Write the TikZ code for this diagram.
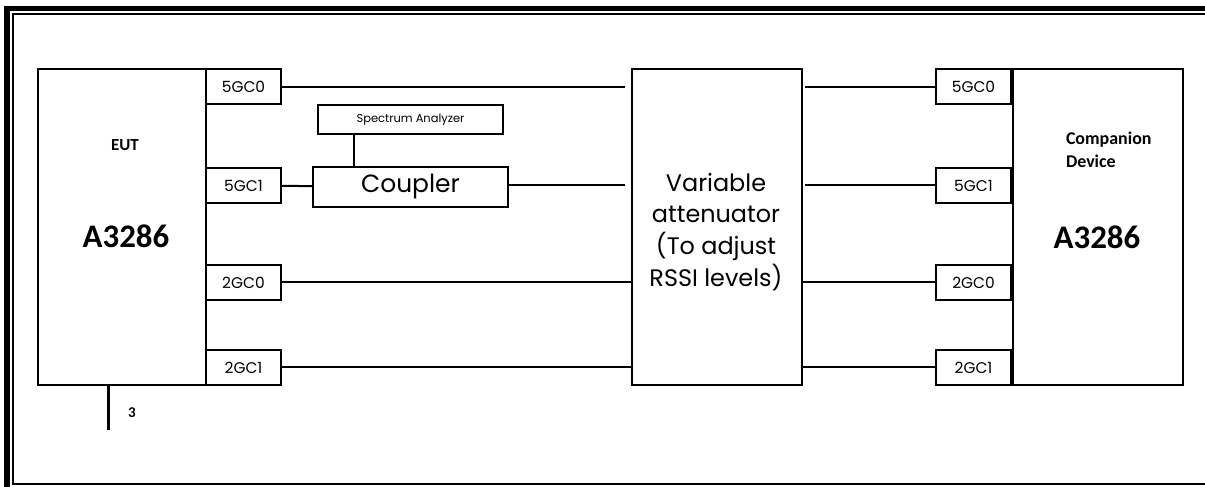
\documentclass[tikz,border=0pt]{standalone}
\usepackage{fontspec}
\setmainfont{Poppins}
\newfontfamily\calfont{Carlito}
\usetikzlibrary{positioning}

\begin{document}
\begin{tikzpicture}[x=1bp, y=-1bp, line width=2bp,
        unit/.style={draw, rectangle, inner sep=0pt, minimum width=#1},
        port/.style={unit=75bp, minimum height=35bp, font=\fontsize{15.5}{15.5}\selectfont},
        wire/.style={line width=2bp},
        rim/.style={fill=black},
        ]
        \useasboundingbox (0,0) rectangle (1205,487);
        % frame
        \path[rim] (4,6) rectangle (1205,11);
        \path[rim] (4,6) rectangle (10,487);
        \path[rim] (12,13) rectangle (1205,15);
        \path[rim] (12,13) rectangle (14,485);
        \path[rim] (12,483) rectangle (1205,485);

        % left device and its ports
        \node[unit=168bp, minimum height=316bp] (eut) at (122,227) {};
        \node[font=\calfont\bfseries\fontsize{17}{17}\selectfont] (eutlbl) at (125,145) {EUT};
        \node[font=\calfont\bfseries\fontsize{33}{33}\selectfont] (eutnum) at (126,236) {A3286};
        \node[port] (l0) at (243.5,87) {5GC0};
        \node[port] (l1) at (243.5,185.5) {5GC1};
        \node[port] (l2) at (243.5,282.5) {2GC0};
        \node[port] (l3) at (243.5,367.5) {2GC1};

        % coupler and analyzer
        \node[unit=195bp, minimum height=40bp, font=\fontsize{25}{25}\selectfont] (coupler) at (410.5,187) {Coupler};
        \node[unit=185bp, minimum height=29bp, font=\fontsize{11.5}{11.5}\selectfont] (sa) at (410.5,119.5) {Spectrum Analyzer};

        % attenuator
        \node[unit=170bp, minimum height=316bp] (att) at (717,227) {};
        \node[align=center, font=\fontsize{24}{32}\selectfont] (attlbl) at (716,232)
            {Variable\\attenuator\\(To adjust\\RSSI levels)};

        % companion device and its ports
        \node[unit=170bp, minimum height=316bp] (comp) at (1098,227) {};
        \node[anchor=north west, align=left, inner sep=0pt, font=\calfont\bfseries\fontsize{18}{23}\selectfont] (complbl) at (1065,131) {Companion\\Device};
        \node[font=\calfont\bfseries\fontsize{33}{33}\selectfont] (compnum) at (1097,237) {A3286};
        \node[port] (r0) at (973.5,87) {5GC0};
        \node[port] (r1) at (973.5,185.5) {5GC1};
        \node[port] (r2) at (973.5,282.5) {2GC0};
        \node[port] (r3) at (973.5,367.5) {2GC1};

        % free ends near the attenuator
        \coordinate (a0) at (625,87);
        \coordinate (a1) at (625,185.5);
        \coordinate (b0) at (805,87);
        \coordinate (b1) at (805,185.5);

        \draw[wire] (l0) -- (a0);
        \draw[wire] (l1) -- (coupler);
        \draw[wire] (coupler.east |- a1) -- (a1);
        \draw[wire] (l2) -- (att.west |- l2);
        \draw[wire] (l3) -- (att.west |- l3);
        \draw[wire] (b0) -- (r0);
        \draw[wire] (b1) -- (r1);
        \draw[wire] (att.east |- r2) -- (r2);
        \draw[wire] (att.east |- r3) -- (r3);

        \coordinate (tap) at (354,0);
        \draw[wire] (sa.south -| tap) -- (coupler.north -| tap);

        % stub under the EUT
        \coordinate (s3) at (108,430);
        \draw[line width=3bp] (eut.south -| s3) -- (s3);
        \node[font=\calfont\bfseries\fontsize{15}{15}\selectfont] (cnt) at (132,413) {3};
\end{tikzpicture}
\end{document}
